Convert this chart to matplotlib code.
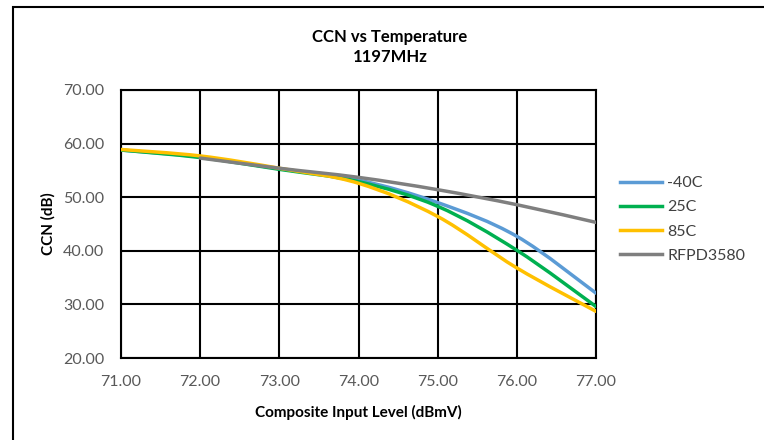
"""CCN vs Temperature chart, smoothed lines like the spreadsheet original."""

import matplotlib
matplotlib.use('Agg')
import matplotlib.pyplot as plt
from matplotlib.path import Path
from matplotlib.patches import PathPatch, Rectangle
from matplotlib.lines import Line2D
import numpy as np

plt.rcParams['font.family'] = ['Lato', 'DejaVu Sans']

# Data
input_level = [71, 72, 73, 74, 75, 76, 77]
ccn_m40 = [58.8, 57.5, 55.3, 53.2, 49.0, 42.7, 32.1]
ccn_25 = [58.8, 57.4, 55.2, 52.9, 48.3, 40.1, 29.6]
ccn_85 = [58.9, 57.7, 55.4, 52.6, 46.4, 36.8, 28.7]
rfpd_level = [72, 73, 74, 75, 76, 77]
ccn_rfpd = [57.3, 55.4, 53.7, 51.4, 48.6, 45.3]

series = [
    ("-40C", input_level, ccn_m40, "#5B9BD5"),
    ("25C", input_level, ccn_25, "#00B050"),
    ("85C", input_level, ccn_85, "#FFC000"),
    ("RFPD3580", rfpd_level, ccn_rfpd, "#7F7F7F"),
]


def smooth_path(xs, ys):
    """Bezier path through the points (Catmull-Rom style control points)."""
    pts = np.column_stack([xs, ys]).astype(float)
    verts = [pts[0]]
    codes = [Path.MOVETO]
    n = len(pts)
    for i in range(n - 1):
        p0 = pts[i - 1] if i > 0 else pts[i]
        p1 = pts[i]
        p2 = pts[i + 1]
        p3 = pts[i + 2] if i + 2 < n else pts[i + 1]
        c1 = p1 + (p2 - p0) / 6.0
        c2 = p2 - (p3 - p1) / 6.0
        verts += [c1, c2, p2]
        codes += [Path.CURVE4] * 3
    return Path(verts, codes)


fig = plt.figure(figsize=(7.64, 4.4), dpi=100)
ax = fig.add_axes([121 / 764, 82 / 440, 475 / 764, 268 / 440])

for name, xs, ys, color in series:
    patch = PathPatch(smooth_path(xs, ys), facecolor='none', edgecolor=color,
                      linewidth=2.5, capstyle='round', zorder=3)
    ax.add_patch(patch)

ax.set_xlim(71, 77)
ax.set_ylim(20, 70)
ax.set_xticks(np.arange(71, 78, 1))
ax.set_yticks(np.arange(20, 71, 10))
ax.set_xticklabels([f"{v:.2f}" for v in np.arange(71, 78, 1)])
ax.set_yticklabels([f"{v:.2f}" for v in np.arange(20, 71, 10)])
ax.tick_params(length=0, labelsize=11.5, colors='#595959')
ax.tick_params(axis='y', pad=12)
ax.tick_params(axis='x', pad=12)
ax.grid(True, color='black', linewidth=1.5)
ax.set_axisbelow(True)
for sp in ax.spines.values():
    sp.set_color('black')
    sp.set_linewidth(1.5)

ax.set_xlabel("Composite Input Level (dBmV)", fontsize=11, fontweight='bold',
              labelpad=12)
ax.set_ylabel("CCN (dB)", fontsize=11, fontweight='bold', labelpad=5.5)

fig.text(390 / 764, 1 - 37 / 440, "CCN vs Temperature", ha='center',
         va='center', fontsize=12, fontweight='bold')
fig.text(390 / 764, 1 - 57.5 / 440, "1197MHz", ha='center', va='center',
         fontsize=12, fontweight='bold')

handles = [Line2D([0], [0], color=c, linewidth=2.5) for _, _, _, c in series]
labels = [s[0] for s in series]
fig.legend(handles, labels, loc='upper left',
           bbox_to_anchor=(620 / 764, 1 - 176 / 440), frameon=False,
           fontsize=11.5, handlelength=2.6, handletextpad=0.35,
           labelspacing=0.63, borderpad=0, borderaxespad=0,
           labelcolor='#404040')

# outer chart border
fig.patches.append(Rectangle((13 / 764, -0.1), 1.2, 1 - 7 / 440 + 0.1,
                             transform=fig.transFigure, fill=False,
                             edgecolor='black', linewidth=1.5))

plt.savefig("out.png", dpi=100)
plt.close(fig)
